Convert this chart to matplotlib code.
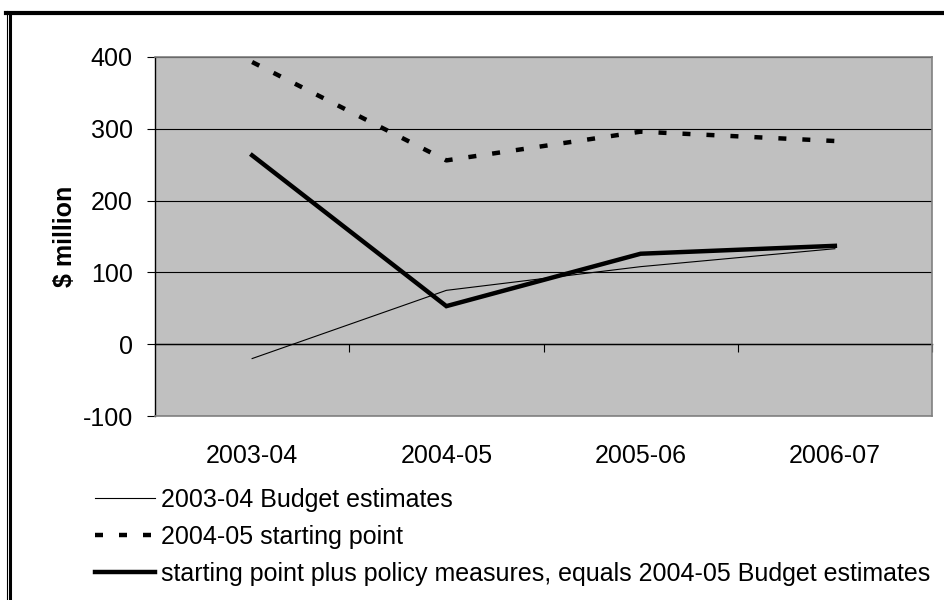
import matplotlib
matplotlib.use("Agg")
from matplotlib import pyplot as plt
from matplotlib.lines import Line2D
import numpy as np

plt.rcParams['font.family'] = ['Liberation Sans', 'DejaVu Sans']
plt.rcParams['axes.unicode_minus'] = False

years = ['2003-04', '2004-05', '2005-06', '2006-07']
budget_0304 = [-20, 75, 108, 133]
start_0405 = [393, 256, 296, 283]
policy_0405 = [263, 53, 126, 137]

W, H = 944, 600
fig = plt.figure(figsize=(W / 100, H / 100), dpi=100)
ax = fig.add_axes([155 / W, 1 - 416 / H, (932 - 155) / W, (416 - 57) / H])
ax.set_facecolor('#c0c0c0')

x = np.arange(len(years))
ax.plot(x, budget_0304, color='black', lw=0.8, label='2003-04 Budget estimates')
ax.plot(x, start_0405, color='black', lw=3.2, dashes=(1.8, 3.6),
        dash_capstyle='butt', label='2004-05 starting point')
ax.plot(x, policy_0405, color='black', lw=3.2, solid_joinstyle='miter',
        label='starting point plus policy measures, equals 2004-05 Budget estimates')

# y axis
ax.set_ylim(-100, 400)
ax.set_yticks([-100, 0, 100, 200, 300, 400])
ax.yaxis.grid(True, color='black', lw=0.8)
ax.set_axisbelow(True)
ax.tick_params(axis='y', direction='out', length=6, width=0.8, pad=10,
               labelsize=18, color='black')
ax.set_ylabel('$ million', fontsize=18, fontweight='bold', labelpad=4)

# category labels under the plot, no ticks
ax.set_xlim(-0.5, len(years) - 0.5)
ax.set_xticks(x)
ax.set_xticklabels(years)
ax.tick_params(axis='x', length=0, pad=20, labelsize=18)

for side in ['top', 'right', 'bottom']:
    ax.spines[side].set_color('#808080')
    ax.spines[side].set_linewidth(1.2)
ax.spines['left'].set_color('black')
ax.spines['left'].set_linewidth(1)

# category axis crossing at zero with boundary ticks
zero_ax = ax.secondary_xaxis(100 / 500)
zero_ax.set_xticks(np.arange(len(years)) + 0.5)
zero_ax.set_xticklabels([])
zero_ax.tick_params(direction='out', length=6, width=0.8, color='black')
zero_ax.spines['bottom'].set_color('black')
zero_ax.spines['bottom'].set_linewidth(1)

leg = fig.legend(loc='upper left', bbox_to_anchor=(95 / W, 1 - 488 / H),
                 frameon=False, fontsize=18, handlelength=2.4,
                 handletextpad=0.25, labelspacing=0.52, borderpad=0,
                 borderaxespad=0)

# outer frame
fig.add_artist(Line2D([6 / W, 1], [1 - 13 / H, 1 - 13 / H], color='black', lw=3))
fig.add_artist(Line2D([6.5 / W, 6.5 / W], [0, 1 - 11 / H], color='black', lw=0.8))
fig.add_artist(Line2D([9.5 / W, 9.5 / W], [0, 1 - 13 / H], color='black', lw=2.2))

fig.savefig('out.png', dpi=100)
